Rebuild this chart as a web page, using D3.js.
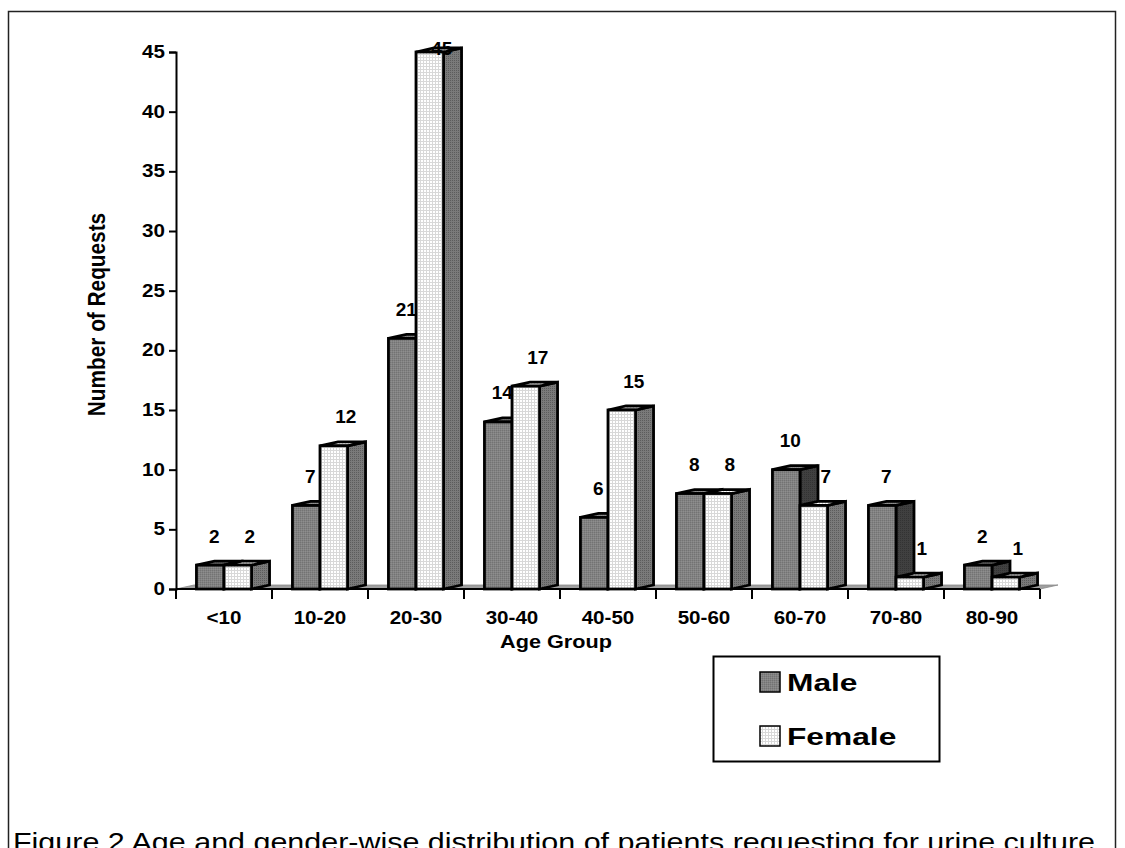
<!DOCTYPE html>
<html>
<head>
<meta charset="utf-8">
<script src="https://cdn.jsdelivr.net/npm/d3@7"></script>
<style>
  html, body { margin: 0; padding: 0; background: #fff; }
  svg { display: block; }
  text { font-family: "Liberation Sans", Arial, sans-serif; }
</style>
</head>
<body>
<svg id="chart" width="1125" height="848"></svg>
<script>
// Age groups and request counts by gender
const ageGroups = ["<10", "10-20", "20-30", "30-40", "40-50", "50-60", "60-70", "70-80", "80-90"];
const maleCounts = [2, 7, 21, 14, 6, 8, 10, 7, 2];
const femaleCounts = [2, 12, 45, 17, 15, 8, 7, 1, 1];
const seriesNames = ["Male", "Female"];
const yTicks = [0, 5, 10, 15, 20, 25, 30, 35, 40, 45];

const svg = d3.select("#chart");
const defs = svg.append("defs");

// fill textures
const pMale = defs.append("pattern").attr("id", "pMale").attr("width", 2).attr("height", 2).attr("patternUnits", "userSpaceOnUse");
pMale.append("rect").attr("width", 2).attr("height", 2).attr("fill", "#828282");
pMale.append("rect").attr("width", 1).attr("height", 1).attr("fill", "#737373");
pMale.append("rect").attr("x", 1).attr("y", 1).attr("width", 1).attr("height", 1).attr("fill", "#8e8e8e");

const pFemale = defs.append("pattern").attr("id", "pFemale").attr("width", 3).attr("height", 3).attr("patternUnits", "userSpaceOnUse");
pFemale.append("rect").attr("width", 3).attr("height", 3).attr("fill", "#ffffff");
pFemale.append("rect").attr("width", 3).attr("height", 1).attr("fill", "#d8d8d8");
pFemale.append("rect").attr("width", 1).attr("height", 3).attr("fill", "#d8d8d8");

const pFemaleSide = defs.append("pattern").attr("id", "pFemaleSide").attr("width", 2).attr("height", 2).attr("patternUnits", "userSpaceOnUse");
pFemaleSide.append("rect").attr("width", 2).attr("height", 2).attr("fill", "#7a7a7a");
pFemaleSide.append("rect").attr("width", 1).attr("height", 1).attr("fill", "#5c5c5c");

const pMaleSide = defs.append("pattern").attr("id", "pMaleSide").attr("width", 2).attr("height", 2).attr("patternUnits", "userSpaceOnUse");
pMaleSide.append("rect").attr("width", 2).attr("height", 2).attr("fill", "#404040");
pMaleSide.append("rect").attr("width", 1).attr("height", 1).attr("fill", "#333333");

// outer frame
svg.append("rect")
  .attr("x", 8.5).attr("y", 11.5).attr("width", 1107).attr("height", 900)
  .attr("fill", "none").attr("stroke", "#222").attr("stroke-width", 1.5);

// plot geometry
const plotLeft = 176, plotRight = 1040, plotTop = 52, plotBottom = 589;
const depth = { dx: 18, dy: -4 };

const x = d3.scaleBand().domain(ageGroups).range([plotLeft, plotRight]);
const bw = x.bandwidth();
const barW = bw * 0.287;
const x1 = d3.scaleBand().domain(seriesNames).range([bw / 2 - barW, bw / 2 + barW]);
const y = d3.scaleLinear().domain([0, 45]).range([plotBottom, plotTop]);

// text drawn with a horizontal stretch (wide bold lettering)
function wideText(parent, tx, ty, str, size, sx, anchor) {
  return parent.append("g")
    .attr("transform", `translate(${tx},${ty}) scale(${sx},1)`)
    .append("text")
    .attr("text-anchor", anchor || "middle")
    .attr("dominant-baseline", "central")
    .attr("font-size", size).attr("font-weight", "bold")
    .text(str);
}

// floor
svg.append("path")
  .attr("d", `M${plotLeft},${plotBottom} L${plotRight},${plotBottom} L${plotRight + depth.dx},${plotBottom + depth.dy} L${plotLeft + depth.dx},${plotBottom + depth.dy} Z`)
  .attr("fill", "#a0a0a0").attr("stroke", "#888").attr("stroke-width", 0.8);

// 3D bar drawing helper
function bar(g, x0, w, v, frontFill, sideFill) {
  const y0 = y(0), yt = y(v);
  const { dx, dy } = depth;
  const sw = 2.8;
  g.append("path")
    .attr("d", `M${x0 + w},${y0} L${x0 + w + dx},${y0 + dy} L${x0 + w + dx},${yt + dy} L${x0 + w},${yt} Z`)
    .attr("fill", sideFill).attr("stroke", "#000").attr("stroke-width", sw).attr("stroke-linejoin", "miter");
  g.append("path")
    .attr("d", `M${x0},${yt} L${x0 + dx},${yt + dy} L${x0 + w + dx},${yt + dy} L${x0 + w},${yt} Z`)
    .attr("fill", frontFill).attr("stroke", "#000").attr("stroke-width", sw).attr("stroke-linejoin", "miter");
  g.append("rect")
    .attr("x", x0).attr("y", yt).attr("width", w).attr("height", y0 - yt)
    .attr("fill", frontFill).attr("stroke", "#000").attr("stroke-width", sw);
}

const bars = svg.append("g");
ageGroups.forEach((cat, i) => {
  const g = bars.append("g");
  bar(g, x(cat) + x1("Male"), x1.bandwidth(), maleCounts[i], "url(#pMale)", "url(#pMaleSide)");
  bar(g, x(cat) + x1("Female"), x1.bandwidth(), femaleCounts[i], "url(#pFemale)", "url(#pFemaleSide)");
});

// value labels
const labels = svg.append("g")
  .attr("font-size", 19).attr("font-weight", "bold").attr("text-anchor", "middle")
  .attr("dominant-baseline", "central");
ageGroups.forEach((cat, i) => {
  labels.append("text")
    .attr("x", x(cat) + x1("Male") + x1.bandwidth() / 2 + 4)
    .attr("y", Math.max(y(maleCounts[i]) - 29, plotTop - 4))
    .text(maleCounts[i]);
  labels.append("text")
    .attr("x", x(cat) + x1("Female") + x1.bandwidth() / 2 + 12)
    .attr("y", Math.max(y(femaleCounts[i]) - 29, plotTop - 4))
    .text(femaleCounts[i]);
});

// y axis (tick labels drawn separately with wide lettering)
const yAxis = svg.append("g")
  .attr("transform", `translate(${plotLeft},0)`)
  .call(d3.axisLeft(y).tickValues(yTicks).tickSize(7).tickFormat(""));
yAxis.select(".domain").attr("stroke", "#000").attr("stroke-width", 2);
yAxis.selectAll(".tick line").attr("stroke", "#000").attr("stroke-width", 2);
const yLab = svg.append("g");
yTicks.forEach(t => wideText(yLab, plotLeft - 11, y(t), String(t), 17.6, 1.17, "end"));

// x axis with boundary ticks between groups
const xAxisG = svg.append("g").attr("transform", `translate(0,${plotBottom})`);
xAxisG.append("line").attr("x1", plotLeft).attr("x2", plotRight).attr("stroke", "#000").attr("stroke-width", 2.2);
const bounds = ageGroups.map(c => x(c)).concat([plotRight]);
xAxisG.selectAll("line.tk").data(bounds).join("line").attr("class", "tk")
  .attr("x1", d => d).attr("x2", d => d).attr("y1", 0).attr("y2", 10)
  .attr("stroke", "#000").attr("stroke-width", 2);
ageGroups.forEach(d => wideText(xAxisG, x(d) + bw / 2, 29, d, 17.6, 1.17));

// axis titles
svg.append("g")
  .attr("transform", `translate(97,${(plotTop + plotBottom) / 2 - 6}) scale(1.17,1) rotate(-90)`)
  .append("text")
  .attr("text-anchor", "middle").attr("dominant-baseline", "central")
  .attr("font-size", 20.8).attr("font-weight", "bold").text("Number of Requests");
wideText(svg, 556, 642, "Age Group", 18.5, 1.17);

// legend
const legend = svg.append("g");
legend.append("rect").attr("x", 713.5).attr("y", 656.5).attr("width", 226).attr("height", 105)
  .attr("fill", "#fff").attr("stroke", "#000").attr("stroke-width", 2);
const legendFills = ["url(#pMale)", "url(#pFemale)"];
seriesNames.forEach((s, i) => {
  const yy = 672 + i * 54;
  legend.append("rect").attr("x", 760).attr("y", yy).attr("width", 20).attr("height", 20)
    .attr("fill", legendFills[i]).attr("stroke", "#000").attr("stroke-width", 1.5);
  wideText(legend, 787, yy + 11, s, 23.5, 1.35, "start");
});

// caption
svg.append("text")
  .attr("x", 13).attr("y", 851)
  .attr("font-size", 25).attr("textLength", 1082).attr("lengthAdjust", "spacingAndGlyphs")
  .text("Figure 2 Age and gender-wise distribution of patients requesting for urine culture");
</script>
</body>
</html>
